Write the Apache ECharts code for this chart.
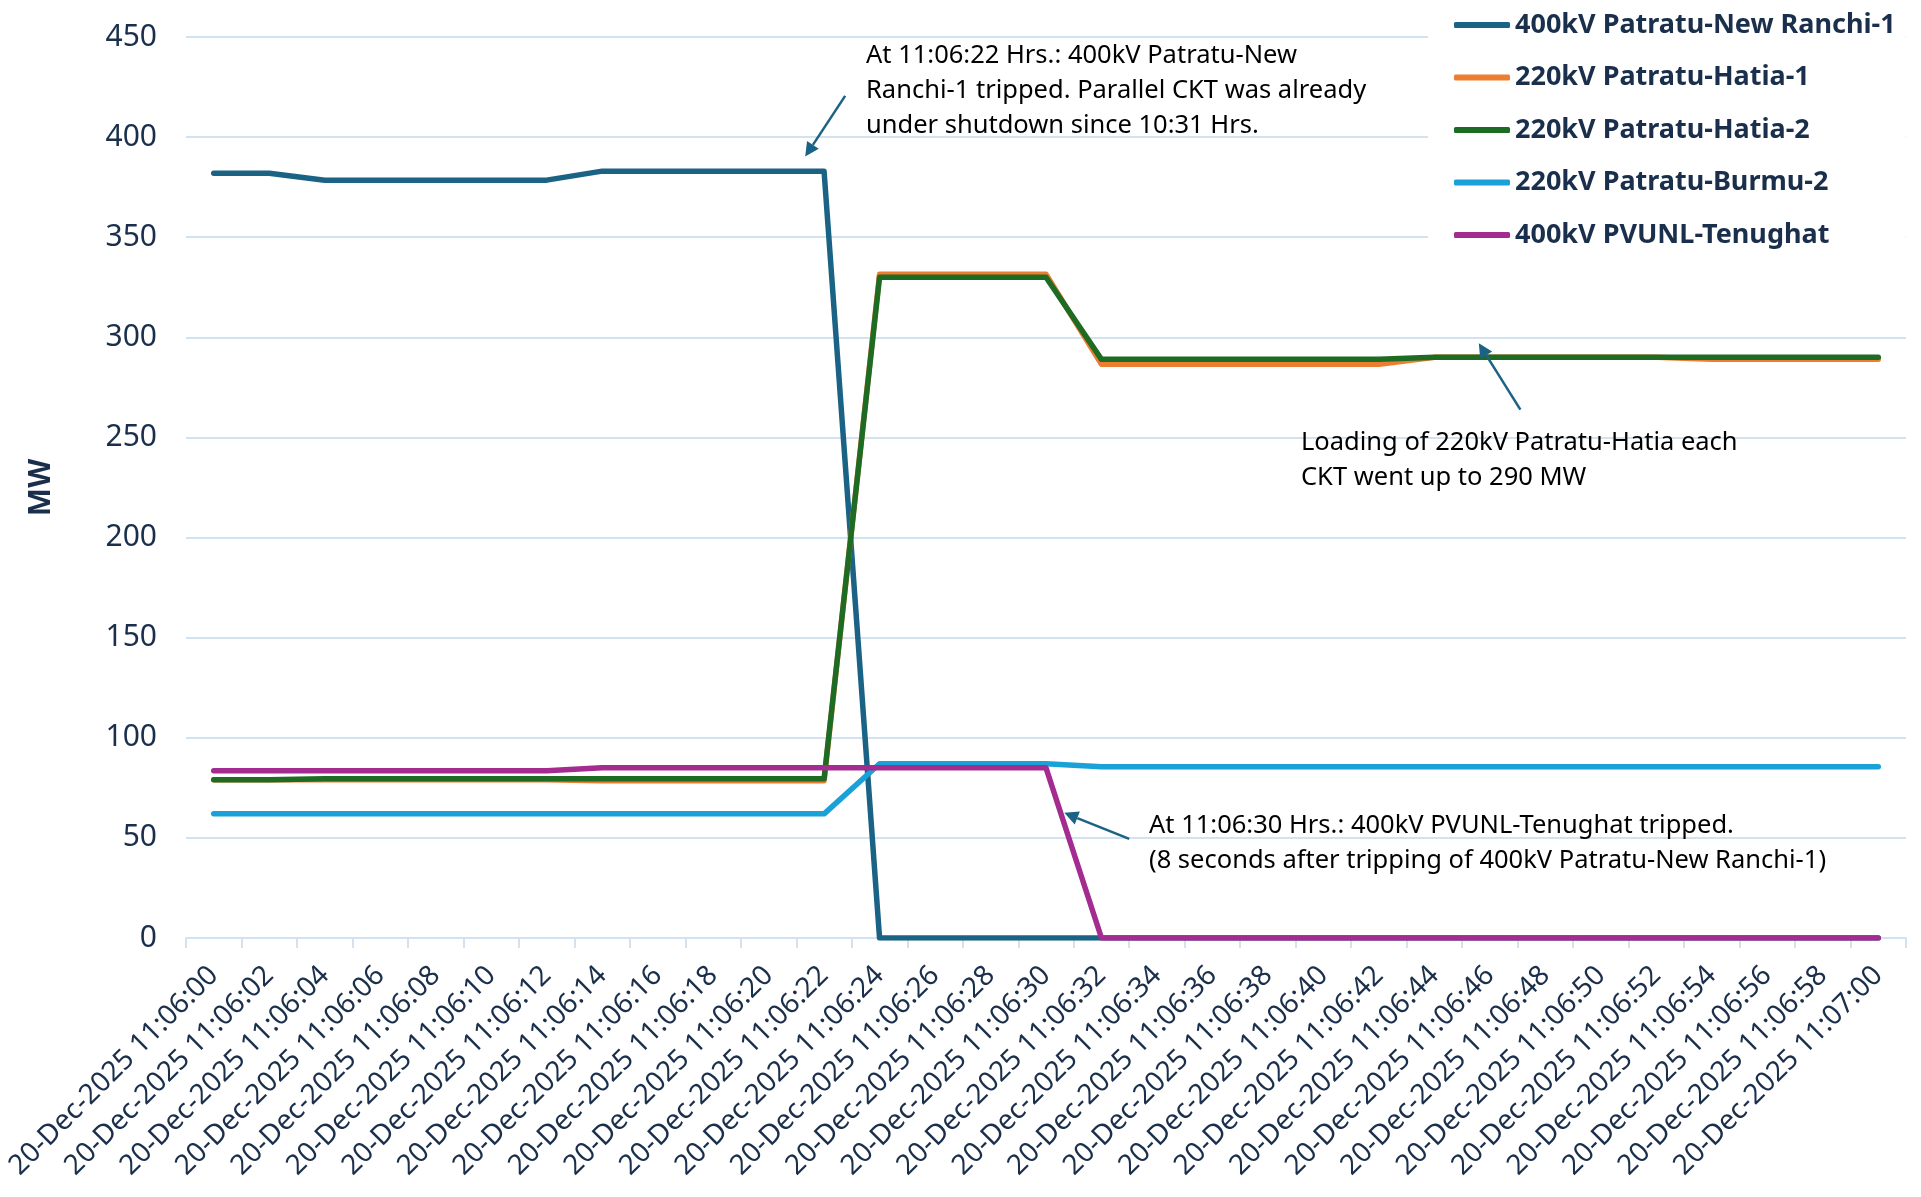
<!DOCTYPE html>
<html>
<head>
<meta charset="utf-8">
<script src="https://cdn.jsdelivr.net/npm/echarts@6/dist/echarts.min.js"></script>
<style>
html,body{margin:0;padding:0;background:#fff;}
#chart{width:1921px;height:1197px;}
</style>
</head>
<body>
<div id="chart"></div>
<script>
const categories = [
  "20-Dec-2025 11:06:00","20-Dec-2025 11:06:02","20-Dec-2025 11:06:04","20-Dec-2025 11:06:06",
  "20-Dec-2025 11:06:08","20-Dec-2025 11:06:10","20-Dec-2025 11:06:12","20-Dec-2025 11:06:14",
  "20-Dec-2025 11:06:16","20-Dec-2025 11:06:18","20-Dec-2025 11:06:20","20-Dec-2025 11:06:22",
  "20-Dec-2025 11:06:24","20-Dec-2025 11:06:26","20-Dec-2025 11:06:28","20-Dec-2025 11:06:30",
  "20-Dec-2025 11:06:32","20-Dec-2025 11:06:34","20-Dec-2025 11:06:36","20-Dec-2025 11:06:38",
  "20-Dec-2025 11:06:40","20-Dec-2025 11:06:42","20-Dec-2025 11:06:44","20-Dec-2025 11:06:46",
  "20-Dec-2025 11:06:48","20-Dec-2025 11:06:50","20-Dec-2025 11:06:52","20-Dec-2025 11:06:54",
  "20-Dec-2025 11:06:56","20-Dec-2025 11:06:58","20-Dec-2025 11:07:00"
];
const seriesNames = [
  "400kV Patratu-New Ranchi-1",
  "220kV Patratu-Hatia-1",
  "220kV Patratu-Hatia-2",
  "220kV Patratu-Burmu-2",
  "400kV PVUNL-Tenughat"
];
const ranchi1 = [382,382,378.5,378.5,378.5,378.5,378.5,383,383,383,383,383,
  0,0,0,0,0,0,0,0,0,0,0,0,0,0,0,0,0,0,0];
const hatia1 = [79,79,79,79,79,79,79,78.5,78.5,78.5,78.5,78.5,
  331.5,331.5,331.5,331.5,286.5,286.5,286.5,286.5,286.5,286.5,
  290,290,290,290,290,289,289,289,289];
const hatia2 = [79,79,79.5,79.5,79.5,79.5,79.5,79.5,79.5,79.5,79.5,79.5,
  330,330,330,330,289,289,289,289,289,289,
  290,290,290,290,290,290,290,290,290];
const burmu2 = [62,62,62,62,62,62,62,62,62,62,62,62,
  87,87,87,87,85.5,85.5,85.5,85.5,85.5,85.5,85.5,85.5,85.5,85.5,85.5,85.5,85.5,85.5,85.5];
const tenughat = [83.5,83.5,83.5,83.5,83.5,83.5,83.5,85,85,85,85,85,85,85,85,85,
  0,0,0,0,0,0,0,0,0,0,0,0,0,0,0];
const yTicks = { min: 0, max: 450, interval: 50 };

const colors = ["#1B6384","#ED7D31","#1E6B24","#1AA2D8","#A42C91"];
const seriesData = [ranchi1, hatia1, hatia2, burmu2, tenughat];

const annotations = [
  { lines: ["At 11:06:22 Hrs.: 400kV Patratu-New", "Ranchi-1 tripped. Parallel CKT was already", "under shutdown since 10:31 Hrs."],
    x: 866, y: 38, tail: [11.38, 420.6], tip: [10.66, 390.3] },
  { lines: ["Loading of 220kV Patratu-Hatia each", "CKT went up to 290 MW"],
    x: 1301, y: 425, tail: [23.55, 263.9], tip: [22.8, 297] },
  { lines: ["At 11:06:30 Hrs.: 400kV PVUNL-Tenughat tripped.", "(8 seconds after tripping of 400kV Patratu-New Ranchi-1)"],
    x: 1149, y: 808, tail: [16.5, 49.5], tip: [15.33, 62.5] }
];

const navy = "#1A2F4B";
const gridColor = "#D3E2F1";
const chart = echarts.init(document.getElementById('chart'), null, {renderer: 'canvas'});

const option = {
  animation: false,
  backgroundColor: '#fff',
  grid: { left: 186, right: 15, top: 37, bottom: 259, containLabel: false },
  legend: {
    orient: 'vertical',
    left: 1428, top: 2,
    padding: [8, 10, 14, 26],
    backgroundColor: '#fff',
    icon: 'roundRect',
    itemWidth: 56, itemHeight: 6,
    itemGap: 22.5,
    data: seriesNames,
    textStyle: { fontFamily: 'Noto Sans', fontWeight: 'bold', fontSize: 27, color: navy, lineHeight: 30 }
  },
  xAxis: {
    type: 'category',
    data: categories,
    boundaryGap: true,
    axisLine: { show: true, lineStyle: { color: gridColor, width: 2 } },
    axisTick: { show: true, length: 10, lineStyle: { color: gridColor, width: 2 } },
    axisLabel: { interval: 0, rotate: 45, margin: 33, fontFamily: 'Noto Sans', fontSize: 28, color: navy }
  },
  yAxis: {
    type: 'value',
    min: yTicks.min, max: yTicks.max, interval: yTicks.interval,
    name: 'MW', nameLocation: 'middle', nameGap: 130, nameRotate: 90,
    nameTextStyle: { fontFamily: 'Noto Sans', fontWeight: 'bold', fontSize: 30, color: navy },
    axisLine: { show: false }, axisTick: { show: false },
    splitLine: { lineStyle: { color: gridColor, width: 2 } },
    axisLabel: { margin: 29, fontFamily: 'Noto Sans', fontSize: 30, color: navy }
  },
  series: seriesNames.map((n, i) => ({
    name: n, type: 'line', data: seriesData[i], showSymbol: false, symbol: 'none',
    lineStyle: { color: colors[i], width: 5.5, cap: 'round', join: 'round' },
    itemStyle: { color: colors[i] }
  }))
};
chart.setOption(option);

function px(i, v) {
  const a = chart.convertToPixel({ xAxisIndex: 0, yAxisIndex: 0 }, [0, v]);
  const b = chart.convertToPixel({ xAxisIndex: 0, yAxisIndex: 0 }, [1, v]);
  return [a[0] + i * (b[0] - a[0]), a[1]];
}
const graphics = [];
const arrowColor = "#1B6384";
annotations.forEach(a => {
  graphics.push({
    type: 'text', left: a.x, top: a.y, z: 100,
    style: { text: a.lines.join('\n'), fontFamily: "'Noto Sans'", fontSize: 25.5, lineHeight: 35, fill: '#000' }
  });
  const t = px(a.tail[0], a.tail[1]);
  const h = px(a.tip[0], a.tip[1]);
  const dx = h[0] - t[0], dy = h[1] - t[1];
  const L = Math.sqrt(dx*dx + dy*dy);
  const ux = dx / L, uy = dy / L;
  const hl = 14, hw = 7;
  const bx = h[0] - ux * hl, by = h[1] - uy * hl;
  graphics.push({ type: 'line', z: 100, shape: { x1: t[0], y1: t[1], x2: bx, y2: by }, style: { stroke: arrowColor, lineWidth: 2.5 } });
  graphics.push({ type: 'polygon', z: 100, shape: { points: [[h[0], h[1]], [bx - uy*hw, by + ux*hw], [bx + uy*hw, by - ux*hw]] }, style: { fill: arrowColor } });
});
chart.setOption({ graphic: graphics });
</script>
</body>
</html>
